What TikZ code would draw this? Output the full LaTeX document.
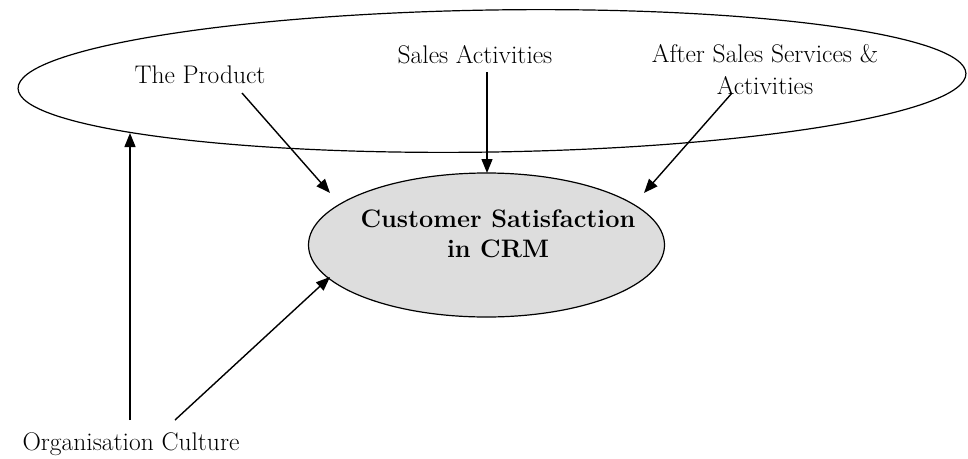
\documentclass[tikz,border=0pt]{standalone}
\usetikzlibrary{shapes.geometric,arrows.meta}
\begin{document}
\begin{tikzpicture}[x=1pt,y=-1pt,
  lbl/.style={inner sep=0pt,font=\fontsize{25.5}{32}\selectfont,align=center},
  arr/.style={-{Triangle[length=14pt,width=11pt]},line width=1.4pt},
  ring/.style={draw,ellipse,inner sep=0pt,line width=1.2pt}]
\useasboundingbox (0,0) rectangle (968,458);
% outer ellipse
\node[ring,minimum width=948pt,minimum height=142pt,rotate=0.9] (outer) at (492,81) {};
% inner ellipse
\node[ring,fill={rgb,255:red,221;green,221;blue,221},minimum width=356pt,minimum height=144pt] (crm) at (486.5,245) {};
\node[inner sep=0pt,align=center,font=\fontsize{25.3}{30}\selectfont\bfseries] (crmtxt) at (498,234) {Customer Satisfaction\\in CRM};
% labels
\node[lbl,anchor=base] (prod) at (200,83) {The Product};
\node[lbl,anchor=base] (sales) at (475,63) {Sales Activities};
\node[lbl,anchor=north] (after) at (765,44) {After Sales Services \&\\Activities};
\node[lbl,anchor=base] (org) at (131,450) {Organisation Culture};
% arrow ends
\coordinate (prodS) at (242,93);
\coordinate (prodT) at (330,193);
\coordinate (salesS) at (487,72);
\coordinate (salesT) at (487,173);
\coordinate (afterS) at (732,93);
\coordinate (afterT) at (644,193);
\coordinate (orgS1) at (130,420);
\coordinate (orgT1) at (130,133);
\coordinate (orgS2) at (175,420);
\coordinate (orgT2) at (330,277);
\draw[arr] (prodS) -- (prodT);
\draw[arr] (salesS) -- (salesT);
\draw[arr] (afterS) -- (afterT);
\draw[arr] (orgS1) -- (orgT1);
\draw[arr] (orgS2) -- (orgT2);
\end{tikzpicture}
\end{document}
